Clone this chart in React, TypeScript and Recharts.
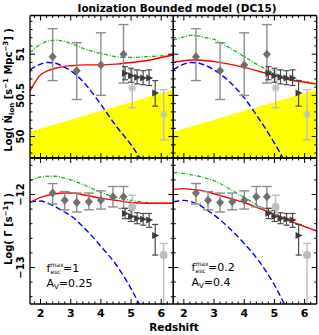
import React from 'react'
import { ComposedChart, Line, Area, Scatter, ErrorBar, XAxis, YAxis } from 'recharts'

const W = 319
const H = 335
const FONT = '"DejaVu Sans", Verdana, sans-serif'

// panel frame edges in px: columns (x) and rows (y)
const COL_X = [30, 173.3, 316.7]
const ROW_Y = [15.5, 158, 304]

const X_DOMAIN = [1.65, 6.4]
const NDOT_DOMAIN = [49.74, 51.47]
const GAMMA_DOMAIN = [-13.5, -11.5]

const X_TICKS = [1.8, 2, 2.2, 2.4, 2.6, 2.8, 3, 3.2, 3.4, 3.6, 3.8, 4, 4.2, 4.4, 4.6, 4.8, 5, 5.2, 5.4, 5.6, 5.8, 6, 6.2]
const NDOT_TICKS = [49.8, 49.9, 50, 50.1, 50.2, 50.3, 50.4, 50.5, 50.6, 50.7, 50.8, 50.9, 51, 51.1, 51.2, 51.3, 51.4]
const GAMMA_TICKS = [-13.4, -13.2, -13, -12.8, -12.6, -12.4, -12.2, -12, -11.8, -11.6]

// model curves at these redshifts
const Z_MODEL = [1.65, 2.0, 2.25, 2.5, 2.75, 3.0, 3.5, 4.0, 4.5, 5.0, 5.5, 6.0, 6.4]

// top row: log Ndot_ion
const NDOT_GREEN_A = [51.02, 51.12, 51.16, 51.17, 51.16, 51.13, 51.06, 51.01, 50.97, 50.96, 50.97, 50.98, 51.0]
const NDOT_RED_A = [50.55, 50.75, 50.8, 50.83, 50.85, 50.86, 50.87, 50.87, 50.88, 50.9, 50.92, 50.96, 50.99]
const NDOT_BLUE_A = [50.81, 50.88, 50.9, 50.89, 50.85, 50.8, 50.63, 50.39, 50.13, 49.9, 49.62]
const NDOT_GREEN_B = [51.17, 51.21, 51.23, 51.22, 51.2, 51.18, 51.08, 50.97, 50.86, 50.77, 50.71, 50.67, 50.64]
const NDOT_RED_B = [50.9, 50.92, 50.93, 50.93, 50.92, 50.91, 50.88, 50.84, 50.79, 50.74, 50.69, 50.66, 50.64]
const NDOT_BLUE_B = [50.81, 50.88, 50.9, 50.89, 50.86, 50.81, 50.67, 50.47, 50.21, 49.92, 49.6]

// bottom row: log Gamma
const GAMMA_GREEN_A = [-11.81, -11.76, -11.75, -11.75, -11.77, -11.8, -11.88, -11.97, -12.04, -12.08, -12.11, -12.12, -12.12]
const GAMMA_RED_A = [-12.11, -12.04, -12.01, -11.99, -11.98, -11.98, -12.01, -12.05, -12.08, -12.11, -12.12, -12.12, -12.12]
const GAMMA_BLUE_A = [-12.1, -12.09, -12.12, -12.17, -12.23, -12.29, -12.48, -12.71, -12.96, -13.29, -13.7]
const GAMMA_GREEN_B = [-11.7, -11.71, -11.73, -11.75, -11.78, -11.81, -11.92, -12.04, -12.16, -12.26, -12.36, -12.44, -12.5]
const GAMMA_RED_B = [-11.93, -11.92, -11.93, -11.94, -11.96, -11.99, -12.05, -12.11, -12.19, -12.27, -12.36, -12.44, -12.5]
const GAMMA_BLUE_B = [-12.1, -12.08, -12.1, -12.14, -12.21, -12.28, -12.46, -12.67, -12.92, -13.24, -13.65]

// yellow band (top row)
const Z_YELLOW = [1.65, 6.4]
const NDOT_YELLOW = [50.06, 50.57]

// observations: diamonds
const Z_DIA_N = [2.4, 3.2, 4.0, 4.75]
const NDOT_DIA = [50.97, 50.8, 50.87, 51.0]
const NDOT_DIA_LO = [50.68, 50.45, 50.5, 50.65]
const NDOT_DIA_HI = [51.31, 51.14, 51.26, 51.36]

const Z_DIA_G = [2.4, 2.8, 3.2, 3.6, 4.0, 4.4, 4.75]
const GAMMA_DIA = [-11.98, -12.08, -12.11, -12.1, -12.08, -12.03, -12.03]
const GAMMA_DIA_LO = [-12.13, -12.21, -12.24, -12.21, -12.2, -12.17, -12.19]
const GAMMA_DIA_HI = [-11.85, -11.96, -11.98, -11.98, -11.95, -11.89, -11.89]

// observations: light grey (asterisks on top, circles below)
const Z_GREY = [5.04, 6.08]
const NDOT_GREY = [50.59, 50.27]
const NDOT_GREY_LO = [50.35, 49.96]
const NDOT_GREY_HI = [50.81, 50.57]
const GAMMA_GREY = [-12.17, -12.83]
const GAMMA_GREY_LO = [-12.3, -13.5]
const GAMMA_GREY_HI = [-12.01, -12.67]

// observations: dark triangles
const Z_TRI = [4.8, 5.0, 5.2, 5.4, 5.6, 5.8]
const NDOT_TRI = [50.77, 50.74, 50.72, 50.71, 50.71, 50.53]
const NDOT_TRI_LO = [50.69, 50.66, 50.64, 50.63, 50.62, 50.37]
const NDOT_TRI_HI = [50.85, 50.83, 50.81, 50.8, 50.81, 50.68]
const GAMMA_TRI = [-12.26, -12.3, -12.33, -12.34, -12.35, -12.56]
const GAMMA_TRI_LO = [-12.33, -12.37, -12.4, -12.42, -12.45, -12.83]
const GAMMA_TRI_HI = [-12.19, -12.22, -12.25, -12.26, -12.26, -12.41]

const DIA_COLOR = '#707070'
const DIA_BAR = '#8c8c8c'
const GREY_COLOR = '#bdbdbd'
const TRI_COLOR = '#3c3c3c'

function curve(zs: number[], vs: number[]) {
  return vs.map((v, i) => ({ z: zs[i], v }))
}

function points(zs: number[], vs: number[], lo: number[], hi: number[]) {
  return zs.map((z, i) => ({ z, v: vs[i], err: [vs[i] - lo[i], hi[i] - vs[i]] }))
}

function isMajor(v: number, step: number) {
  const r = v / step
  return Math.abs(r - Math.round(r)) < 1e-6
}

function fmt(v: number) {
  return v < 0 ? '\u2212' + Math.abs(v) : String(v)
}

function xTick(side: 'top' | 'bottom', labels: boolean) {
  return (props: any) => {
    const { x, y, payload } = props
    const major = isMajor(payload.value, 1)
    const len = major ? 5 : 2.5
    const dir = side === 'bottom' ? -1 : 1
    return (
      <g>
        <line x1={x} y1={y} x2={x} y2={y + dir * len} stroke="#000" strokeWidth={1} />
        {labels && major && (
          <text x={x} y={y + 13} textAnchor="middle" fontSize={11} fontWeight="bold" fontFamily={FONT} fill="#000">
            {payload.value}
          </text>
        )}
      </g>
    )
  }
}

function yTick(side: 'left' | 'right', labels: boolean, step: number) {
  return (props: any) => {
    const { x, y, payload } = props
    const major = isMajor(payload.value, step)
    const len = major ? 5 : 2.5
    const dir = side === 'left' ? 1 : -1
    return (
      <g>
        <line x1={x} y1={y} x2={x + dir * len} y2={y} stroke="#000" strokeWidth={1} />
        {labels && major && (
          <text
            transform={`translate(${x - 6.5},${y}) rotate(-90)`}
            textAnchor="middle"
            fontSize={10}
            fontWeight="bold"
            fontFamily={FONT}
            fill="#000"
          >
            {fmt(payload.value)}
          </text>
        )}
      </g>
    )
  }
}

const Diamond = (p: any) => (
  <polygon
    points={`${p.cx},${p.cy - 4.5} ${p.cx + 4},${p.cy} ${p.cx},${p.cy + 4.5} ${p.cx - 4},${p.cy}`}
    fill={DIA_COLOR}
  />
)

const Triangle = (p: any) => (
  <polygon points={`${p.cx - 3},${p.cy - 3.5} ${p.cx + 4},${p.cy} ${p.cx - 3},${p.cy + 3.5}`} fill={TRI_COLOR} />
)

const Asterisk = (p: any) => (
  <g stroke={GREY_COLOR} strokeWidth={1.3}>
    <line x1={p.cx - 4} y1={p.cy} x2={p.cx + 4} y2={p.cy} />
    <line x1={p.cx} y1={p.cy - 4} x2={p.cx} y2={p.cy + 4} />
    <line x1={p.cx - 3} y1={p.cy - 3} x2={p.cx + 3} y2={p.cy + 3} />
    <line x1={p.cx - 3} y1={p.cy + 3} x2={p.cx + 3} y2={p.cy - 3} />
  </g>
)

const Dot = (p: any) => <circle cx={p.cx} cy={p.cy} r={4} fill={GREY_COLOR} />

const AXIS_LINE = { stroke: '#000', strokeWidth: 1.3 }

interface PanelProps {
  col: number
  row: number
  green: number[]
  red: number[]
  blue: number[]
}

function Panel({ col, row, green, red, blue }: PanelProps) {
  const top = row === 0
  // axes are 1px thick boxes, so pull the margins in by 1
  const margin = {
    left: COL_X[col] - 1,
    right: W - COL_X[col + 1] - 1,
    top: ROW_Y[row] - 1,
    bottom: H - ROW_Y[row + 1] - 1,
  }
  const yDomain = top ? NDOT_DOMAIN : GAMMA_DOMAIN
  const yTicks = top ? NDOT_TICKS : GAMMA_TICKS
  const step = top ? 0.5 : 1

  const dia = top
    ? points(Z_DIA_N, NDOT_DIA, NDOT_DIA_LO, NDOT_DIA_HI)
    : points(Z_DIA_G, GAMMA_DIA, GAMMA_DIA_LO, GAMMA_DIA_HI)
  const grey = top
    ? points(Z_GREY, NDOT_GREY, NDOT_GREY_LO, NDOT_GREY_HI)
    : points(Z_GREY, GAMMA_GREY, GAMMA_GREY_LO, GAMMA_GREY_HI)
  const tri = top
    ? points(Z_TRI, NDOT_TRI, NDOT_TRI_LO, NDOT_TRI_HI)
    : points(Z_TRI, GAMMA_TRI, GAMMA_TRI_LO, GAMMA_TRI_HI)

  const common = {
    type: 'number' as const,
    allowDataOverflow: true,
    interval: 0 as const,
    tickSize: 0,
    tickMargin: 0,
    tickLine: false,
    axisLine: AXIS_LINE,
  }

  return (
    <div style={{ position: 'absolute', left: 0, top: 0 }}>
      <ComposedChart width={W} height={H} margin={margin}>
        <XAxis {...common} xAxisId={0} orientation="bottom" dataKey="z" domain={X_DOMAIN} ticks={X_TICKS} height={1} tick={xTick('bottom', !top)} />
        <XAxis {...common} xAxisId="top" orientation="top" dataKey="z" domain={X_DOMAIN} ticks={X_TICKS} height={1} tick={xTick('top', false)} />
        <YAxis {...common} yAxisId={0} orientation="left" dataKey="v" domain={yDomain} ticks={yTicks} width={1} tick={yTick('left', col === 0, step)} />
        <YAxis {...common} yAxisId="right" orientation="right" dataKey="v" domain={yDomain} ticks={yTicks} width={1} tick={yTick('right', false, step)} />

        {top && (
          <Area
            data={curve(Z_YELLOW, NDOT_YELLOW)}
            dataKey="v"
            type="linear"
            baseValue="dataMin"
            fill="#ffff00"
            fillOpacity={1}
            stroke="none"
            isAnimationActive={false}
          />
        )}
        <Line data={curve(Z_MODEL, green)} dataKey="v" type="monotone" stroke="#1fb51f" strokeWidth={1.3} strokeDasharray="4 1.5 1 1.5" dot={false} isAnimationActive={false} />
        <Line data={curve(Z_MODEL, blue)} dataKey="v" type="monotone" stroke="#0000ff" strokeWidth={1.4} strokeDasharray="6 3" dot={false} isAnimationActive={false} />
        <Line data={curve(Z_MODEL, red)} dataKey="v" type="monotone" stroke="#ff0000" strokeWidth={1.4} dot={false} isAnimationActive={false} />

        <Scatter data={grey} shape={top ? Asterisk : Dot} isAnimationActive={false}>
          <ErrorBar dataKey="err" direction="y" width={4} stroke={GREY_COLOR} strokeWidth={1.4} />
        </Scatter>
        <Scatter data={dia} shape={Diamond} isAnimationActive={false}>
          <ErrorBar dataKey="err" direction="y" width={5} stroke={DIA_BAR} strokeWidth={1.4} />
        </Scatter>
        <Scatter data={tri} shape={Triangle} isAnimationActive={false}>
          <ErrorBar dataKey="err" direction="y" width={3} stroke="#4a4a4a" strokeWidth={1.2} />
        </Scatter>
      </ComposedChart>
    </div>
  )
}

function Labels() {
  return (
    <svg width={W} height={H} style={{ position: 'absolute', left: 0, top: 0, pointerEvents: 'none' }} fontFamily={FONT} fill="#000">
      <text x={177} y={11.5} textAnchor="middle" fontSize={10.5} fontWeight="bold">
        Ionization Bounded model (DC15)
      </text>
      <text transform="translate(12,90) rotate(-90)" textAnchor="middle" fontSize={10} fontWeight="bold">
        Log( {'\u1E44'}
        <tspan fontSize={7} dy={2}>ion</tspan>
        <tspan dy={-2}> [s</tspan>
        <tspan fontSize={7} dy={-4}>{'\u2212'}1</tspan>
        <tspan dy={4}> Mpc</tspan>
        <tspan fontSize={7} dy={-4}>{'\u2212'}3</tspan>
        <tspan dy={4}>] )</tspan>
      </text>
      <text transform="translate(12,229) rotate(-90)" textAnchor="middle" fontSize={10} fontWeight="bold">
        Log( {'\u0393'} [s
        <tspan fontSize={7} dy={-4}>{'\u2212'}1</tspan>
        <tspan dy={4}>] )</tspan>
      </text>
      <text x={174} y={331} textAnchor="middle" fontSize={10.5} fontWeight="bold">
        Redshift
      </text>

      <text x={46.5} y={272} fontSize={11}>f</text>
      <text x={50.5} y={266.5} fontSize={6}>max</text>
      <text x={50.5} y={273.5} fontSize={6}>esc</text>
      <text x={63} y={272} fontSize={11}>=1</text>
      <text x={46.5} y={287} fontSize={11}>
        A<tspan fontSize={7} dy={2}>V</tspan>
        <tspan dy={-2}>=0.25</tspan>
      </text>

      <text x={191.5} y={271} fontSize={11}>f</text>
      <text x={195.5} y={265.5} fontSize={6}>max</text>
      <text x={195.5} y={272.5} fontSize={6}>esc</text>
      <text x={208} y={271} fontSize={11}>=0.2</text>
      <text x={191.5} y={286} fontSize={11}>
        A<tspan fontSize={7} dy={2}>V</tspan>
        <tspan dy={-2}>=0.4</tspan>
      </text>
    </svg>
  )
}

export default function App() {
  return (
    <div style={{ position: 'absolute', left: 0, top: 0, width: W, height: H, background: '#fff' }}>
      <Panel col={0} row={0} green={NDOT_GREEN_A} red={NDOT_RED_A} blue={NDOT_BLUE_A} />
      <Panel col={1} row={0} green={NDOT_GREEN_B} red={NDOT_RED_B} blue={NDOT_BLUE_B} />
      <Panel col={0} row={1} green={GAMMA_GREEN_A} red={GAMMA_RED_A} blue={GAMMA_BLUE_A} />
      <Panel col={1} row={1} green={GAMMA_GREEN_B} red={GAMMA_RED_B} blue={GAMMA_BLUE_B} />
      <Labels />
    </div>
  )
}
